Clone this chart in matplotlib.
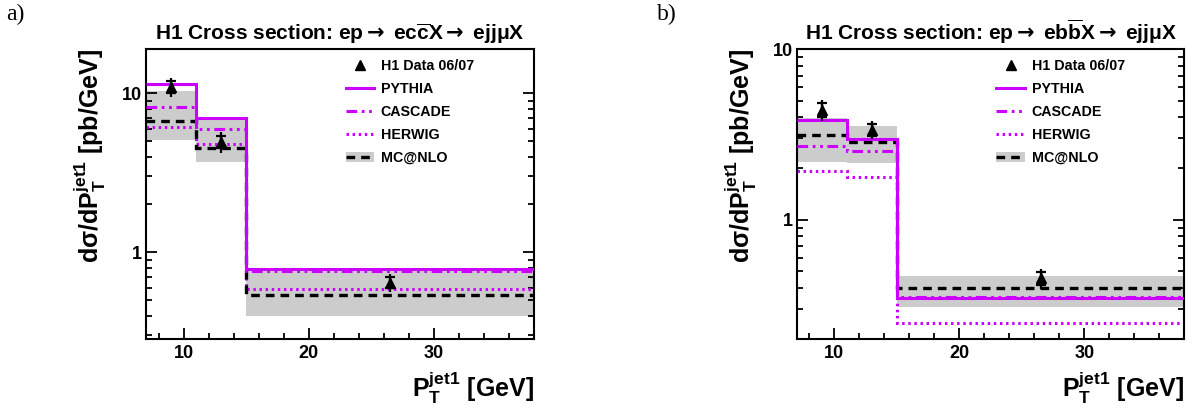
import matplotlib
matplotlib.use("Agg")
import matplotlib.pyplot as plt
from matplotlib.lines import Line2D
from matplotlib.patches import Patch
from matplotlib.ticker import FixedLocator, FixedFormatter, LogLocator, NullFormatter, MultipleLocator

plt.rcParams['font.family'] = ['Liberation Sans', 'DejaVu Sans']
plt.rcParams['font.weight'] = 'bold'
plt.rcParams['mathtext.fontset'] = 'custom'
plt.rcParams['mathtext.rm'] = 'DejaVu Sans'
plt.rcParams['mathtext.it'] = 'Liberation Sans:bold'
plt.rcParams['mathtext.bf'] = 'Liberation Sans:bold'

# bin edges in P_T^jet1 [GeV]
edges = [7, 11, 15, 38]
data_x = [9, 13, 26.5]

# charm (panel a)
c_pythia = [11.4, 7.0, 0.79]
c_cascade = [8.2, 6.0, 0.76]
c_herwig = [6.1, 4.8, 0.585]
c_mcnlo = [6.7, 4.5, 0.54]
c_mcnlo_lo = [5.1, 3.7, 0.40]
c_mcnlo_hi = [10.3, 7.1, 0.77]
c_data = [11.0, 4.96, 0.645]
c_err_tot = [1.5, 0.72, 0.085]
c_err_stat = [0.9, 0.45, 0.05]

# beauty (panel b)
b_pythia = [3.84, 2.98, 0.346]
b_cascade = [2.70, 2.52, 0.351]
b_herwig = [1.94, 1.78, 0.249]
b_mcnlo = [3.13, 2.86, 0.397]
b_mcnlo_lo = [2.18, 2.15, 0.309]
b_mcnlo_hi = [3.93, 3.57, 0.469]
b_data = [4.41, 3.38, 0.455]
b_err_tot = [0.62, 0.42, 0.06]
b_err_stat = [0.4, 0.27, 0.04]

MAG = '#CC00FF'
GRAY = '#cccccc'
LW = 2.2

panels = [
    ('a)', 'ec$\\overline{c}$X', (0.285, 18.9), c_pythia, c_cascade, c_herwig, c_mcnlo,
     c_mcnlo_lo, c_mcnlo_hi, c_data, c_err_tot, c_err_stat),
    ('b)', 'eb$\\overline{b}$X', (0.2, 10), b_pythia, b_cascade, b_herwig, b_mcnlo,
     b_mcnlo_lo, b_mcnlo_hi, b_data, b_err_tot, b_err_stat),
]

fig = plt.figure(figsize=(11.93, 4.12), dpi=100)
lefts = [0.1224, 0.668]

for left, p in zip(lefts, panels):
    tag, proc, ylim, pyt, cas, her, mcn, lo, hi, dat, etot, estat = p
    ax = fig.add_axes([left, 0.1772, 0.3248, 0.7032])
    ax.set_yscale('log')

    ax.stairs(hi, edges, baseline=lo, fill=True, color=GRAY, lw=0, zorder=1)
    ax.stairs(her, edges, baseline=None, color=MAG, lw=LW, ls=(0, (0.8, 1.2)), zorder=2)
    ax.stairs(mcn, edges, baseline=None, color='k', lw=2.4, ls=(0, (2.6, 1.8)), zorder=3)
    ax.stairs(cas, edges, baseline=None, color=MAG, lw=LW,
              ls=(0, (3.5, 1.5, 0.9, 1.5, 0.9, 1.5)), zorder=4)
    ax.stairs(pyt, edges, baseline=None, color=MAG, lw=LW, zorder=5)

    ax.errorbar(data_x, dat, yerr=etot, fmt='none', ecolor='k', elinewidth=1.6, capsize=0, zorder=6)
    ax.errorbar(data_x, dat, yerr=estat, fmt='^', color='k', markersize=7.5,
                elinewidth=1.6, capsize=3.5, capthick=1.6, zorder=7)

    ax.set_xlim(7, 38)
    ax.set_ylim(*ylim)
    ax.xaxis.set_major_locator(FixedLocator([10, 20, 30]))
    ax.xaxis.set_minor_locator(MultipleLocator(2))
    ax.yaxis.set_major_locator(FixedLocator([1, 10]))
    ax.yaxis.set_major_formatter(FixedFormatter(['1', '10']))
    ax.yaxis.set_minor_locator(LogLocator(base=10, subs=range(2, 10)))
    ax.yaxis.set_minor_formatter(NullFormatter())
    ax.tick_params(which='both', direction='in', right=True, top=False, width=1.3,
                   labelsize=13)
    ax.tick_params(which='major', length=8)
    ax.tick_params(which='minor', length=4.5)
    ax.tick_params(axis='x', pad=4)
    ax.tick_params(axis='y', pad=3)
    for lab in ax.get_xticklabels() + ax.get_yticklabels():
        lab.set_fontweight('bold')
    for s in ax.spines.values():
        s.set_linewidth(1.5)

    ax.set_title('H1 Cross section: ep$\\rightarrow$ ' + proc + '$\\rightarrow$ ejj$\\mu$X',
                 fontsize=15, fontweight='bold', pad=7)
    ax.set_ylabel('d$\\sigma$/dP$_{\\mathbf{T}}^{\\mathbf{jet1}}$ [pb/GeV]', fontsize=18,
                  fontweight='bold', loc='top', labelpad=10)
    ax.set_xlabel('P$_{\\mathbf{T}}^{\\mathbf{jet1}}$ [GeV]', fontsize=18, fontweight='bold',
                  loc='right', labelpad=6)

    handles = [
        Line2D([], [], marker='^', color='k', ls='none', markersize=7),
        Line2D([], [], color=MAG, lw=LW),
        Line2D([], [], color=MAG, lw=LW, ls=(0, (3.5, 1.5, 0.9, 1.5, 0.9, 1.5))),
        Line2D([], [], color=MAG, lw=LW, ls=(0, (0.8, 1.2))),
        (Patch(facecolor=GRAY, edgecolor='none'), Line2D([], [], color='k', lw=2.4, ls=(0, (2.6, 1.8)))),
    ]
    labels = ['H1 Data 06/07', 'PYTHIA', 'CASCADE', 'HERWIG', 'MC@NLO']
    ax.legend(handles, labels, loc='upper left', bbox_to_anchor=(0.515, 0.965),
              frameon=False, borderpad=0, borderaxespad=0, handlelength=2.0,
              handletextpad=0.45, labelspacing=0.62,
              prop={'family': 'Liberation Sans', 'weight': 'bold', 'size': 10.3})

    fig.text(left - 0.117, 0.99, tag, family='Liberation Serif', fontweight='normal',
             fontsize=17, va='top', ha='left')

fig.savefig('out.png', dpi=100)
